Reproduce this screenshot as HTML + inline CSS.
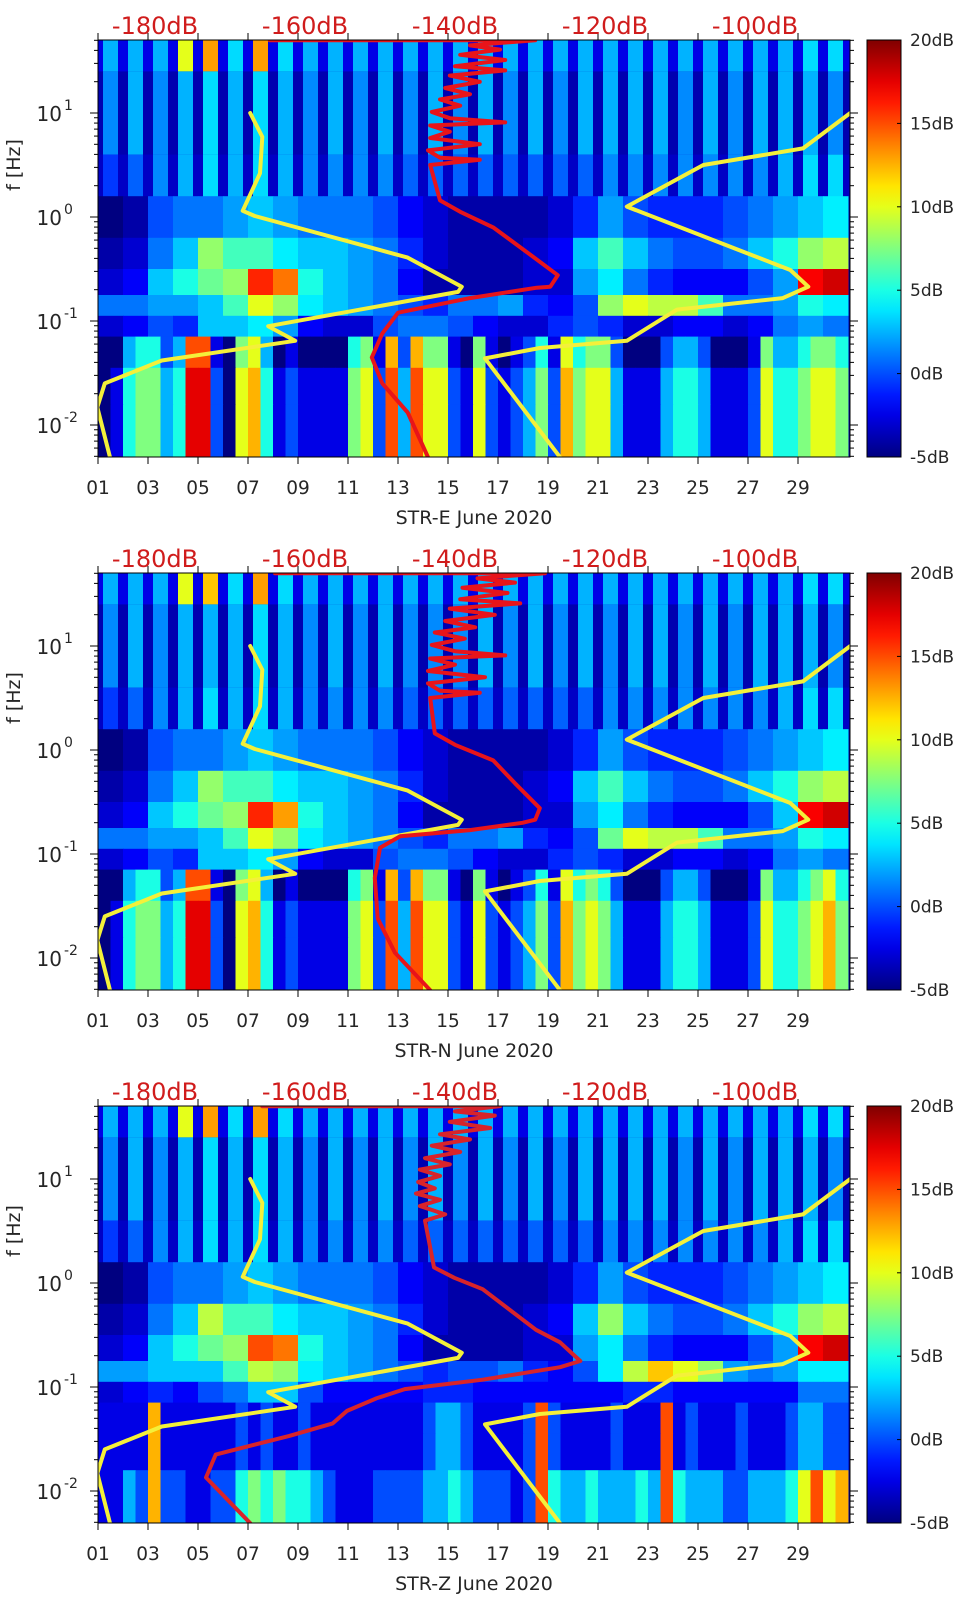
<!DOCTYPE html>
<html><head><meta charset="utf-8">
<style>
html,body{margin:0;padding:0;background:#fff;}
svg{display:block;}
text{font-family:"DejaVu Sans","Liberation Sans",sans-serif;}
</style></head>
<body>
<svg id="fig" width="962" height="1599" viewBox="0 0 962 1599" xmlns="http://www.w3.org/2000/svg">
<defs id="defs"></defs>
</svg>
<script>
// ---------- data (dB values unless noted) ----------
const bandEdges = [1.7,1.4,0.6,0.2,-0.2,-0.5,-0.75,-0.95,-1.15,-1.45,-1.8,-2.31]; // log10(Hz)
const dayTicks = [1,3,5,7,9,11,13,15,17,19,21,23,25,27,29];
const dbTicks = [-180,-160,-140,-120,-100];
const cbarTicks = [20,15,10,5,0,-5];
const yDecades = [1,0,-1,-2];
const panelNames = ["STR-E June 2020","STR-N June 2020","STR-Z June 2020"];

const eTop = [2.5,2.5,2.5,10,13,3.5,13,3.5,2.5,2.5,2.5,2.5,2.5,2.5,2.5,2.5,2.5,2.5,2.5,2.5,2.5,2.5,2.5,2.5,2.5,2.5,2.5,2.5,3.5,3.5];
const eHi  = [1.5,2.5,1.5,2.5,3.5,2.5,3.5,2.5,1.5,2.5,1.5,2.5,1.5,2.5,1.5,2.5,1.5,2.5,1.5,2.5,2.5,2.5,2.5,1.5,2.5,1.5,2.5,2.5,2.5,1.5];
const eMid = [-0.5,0.5,1.5,2.5,3.5,2.5,3.5,2.5,1.5,1.5,1.5,1.5,0.5,0.5,0.5,0.5,0.5,0.5,0.5,0.5,1.5,1.5,1.5,1.5,1.5,1.5,1.5,2.5,3.5,3.5];
const eB3 = [-5,-4,0,1,1,2,3,2,1,1,1,0,-2,-3,-4,-4,-4,-4,-3,-1,2,0,-1,-1,-1,0,1,2,3,4];
const eB4 = [-4,-3,1,3,8,6,6,4,3,3,2,1,-1,-3,-4,-4,-4,-3,-2,3,6,3,1,0,0,1,3,5,8,9];
const eB5 = [-3,-2,3,5,7,8,16,14,5,3,2,1,-2,-4,-4,-4,-4,-3,-3,2,4,1,-1,-2,-2,-2,0,2,17,18];
const eB6 = [1,1,2,2,3,6,10,8,4,3,2,1,0,-1,1,1,2,-1,-2,0,8,10,9,9,6,1,1,2,5,4];
const eB7 = [-3,-2,0,-1,3,3,4,2,-2,-3,-3,0,1,1,0,-2,-3,-3,-1,0,-1,-3,-3,-2,-2,-3,-2,1,2,1];
const eLowA = [0,1,4,5,5,3,4,9,9,2, 0,6,7,4,1,2,1,1,1,1, 5,6,2,8,3,8,6,6,2,1, 6,2,1,2,3,5,2,7,5,6, 6,3,1,1,1,3,4,4,3,1, 1,1,2,6,4,4,5,6,6,5];
const eLowB = [0,1,4,5,5,3,4,9,9,2, 0,6,7,4,1,2,1,1,1,1, 5,6,2,8,3,8,6,6,2,1, 6,2,1,2,3,5,2,7,5,6, 6,3,1,1,1,3,4,4,3,1, 1,1,2,6,4,4,5,6,6,5];

const nTop = [2.5,2.5,2.5,10,12,3.5,13,3.5,2.5,2.5,2.5,2.5,2.5,2.5,2.5,2.5,2.5,2.5,2.5,2.5,2.5,2.5,2.5,2.5,2.5,2.5,2.5,2.5,3.5,3.5];
const nHi  = [1.5,2.5,1.5,2.5,2.5,2.5,3.5,2.5,1.5,2.5,1.5,2.5,1.5,1.5,1.5,2.5,1.5,2.5,1.5,2.5,1.5,2.5,2.5,1.5,2.5,1.5,2.5,2.5,2.5,1.5];
const nMid = [-0.5,0.5,1.5,2.5,3.5,2.5,3.5,2.5,1.5,1.5,1.5,1.5,0.5,0.5,0.5,0.5,0.5,0.5,0.5,0.5,1.5,1.5,1.5,1.5,1.5,1.5,1.5,2.5,3.5,3.5];
const nB3 = [-5,-4,0,1,1,2,3,2,1,1,1,0,-2,-3,-4,-4,-4,-4,-3,-1,2,0,-1,-1,-1,0,1,2,3,4];
const nB4 = [-4,-3,1,3,8,6,6,4,3,3,2,1,-1,-3,-4,-4,-4,-3,-2,3,6,3,1,0,0,1,3,5,8,9];
const nB5 = [-3,-2,3,5,7,8,16,13,5,3,2,1,-2,-4,-4,-4,-4,-3,-3,2,4,1,-1,-2,-2,-2,0,3,17,18];
const nB6 = [1,1,2,2,3,6,10,8,4,3,2,1,0,-1,1,1,2,-1,-2,0,7,10,9,9,6,1,1,2,5,4];
const nB7 = [-3,-2,0,-1,3,3,4,2,-2,-3,-3,0,1,1,0,-2,-3,-3,-1,0,-1,-3,-3,-2,-2,-3,-2,1,2,1];
const nLowA = [0,1,4,5,5,3,4,9,9,2, 0,6,7,4,1,2,1,1,1,1, 5,6,2,8,3,8,6,6,2,1, 6,2,1,2,3,5,2,7,5,6, 5,3,1,1,1,3,4,4,3,1, 1,1,2,6,4,4,5,6,7,5];
const nLowB = [0,1,4,5,5,3,4,9,9,2, 0,6,7,4,1,2,1,1,1,1, 5,6,2,8,3,8,6,6,2,1, 6,2,1,2,3,5,2,7,5,6, 5,3,1,1,1,3,4,4,3,1, 1,1,2,6,4,4,5,6,7,5];

const zTop = [2.5,2.5,2.5,10,13,3.5,13,3.5,2.5,2.5,2.5,2.5,2.5,2.5,2.5,2.5,2.5,2.5,2.5,2.5,2.5,2.5,2.5,2.5,2.5,2.5,2.5,2.5,3.5,3.5];
const zHi  = [1.5,2.5,1.5,2.5,3.5,2.5,3.5,2.5,1.5,2.5,1.5,2.5,1.5,2.5,1.5,2.5,1.5,2.5,1.5,2.5,2.5,2.5,2.5,1.5,2.5,1.5,2.5,2.5,2.5,1.5];
const zMid = [-0.5,0.5,1.5,2.5,3.5,2.5,3.5,2.5,1.5,1.5,1.5,1.5,0.5,0.5,0.5,0.5,0.5,0.5,0.5,0.5,1.5,1.5,1.5,1.5,1.5,1.5,1.5,2.5,3.5,3.5];
const zB3 = [-5,-4,0,1,1,2,3,2,1,1,1,0,-2,-3,-4,-4,-4,-4,-3,-1,2,0,-1,-1,-1,0,1,2,3,4];
const zB4 = [-4,-3,1,3,9,6,6,4,3,3,2,1,-1,-3,-4,-4,-4,-3,-2,3,8,3,1,0,0,1,3,5,8,9];
const zB5 = [-3,-2,3,5,7,8,15,14,5,3,2,1,-2,-4,-4,-4,-4,-3,-3,2,4,1,-1,-2,-2,-2,0,2,17,18];
const zB6 = [2,2,3,3,3,6,9,8,4,3,2,1,0,-1,0,0,1,-1,-2,0,4,9,12,10,8,2,1,2,4,4];
const zB7 = [-3,-2,-1,-2,0,1,3,3,0,-2,-2,-2,-2,-1,-1,-2,-2,-2,-2,-2,-2,-1,-1,-2,-2,-2,-2,-2,1,1];
const zLowA = [1,1,1,1,7,1,1,1,1,1, 1,2,1,2,1,1,2,1,1,1, 1,1,1,1,1,1,2,3,3,2, 1,1,1,1,2,8,2,1,1,1, 1,2,1,1,1,8,1,2,1,1, 1,2,1,1,1,2,3,3,2,2];
const zLowB = [1,1,3,2,7,2,2,1,1,2, 2,4,5,4,5,4,4,3,2,1, 1,1,2,2,2,2,3,3,4,3, 2,2,2,1,2,8,4,3,3,4, 3,3,3,4,3,8,4,3,3,3, 2,2,3,3,3,4,6,8,6,7];

const nlnmDb = [-167.3,-165.7,-166.0,-168.3,-166.7,-146.3,-139.1,-139.6,-164.9,-161.3,-179.1,-186.7,-187.7,-186.0];
const nlnmF  = [1.0,0.77,0.42,0.06,0.01,-0.39,-0.67,-0.72,-1.05,-1.19,-1.38,-1.60,-1.83,-2.31];
const nhnmDb = [-87.3,-93.6,-106.9,-117.1,-95.3,-92.9,-96.3,-110.4,-117.1,-128.7,-136.0,-126.0];
const nhnmF  = [1.0,0.66,0.50,0.10,-0.51,-0.67,-0.78,-0.89,-1.19,-1.26,-1.36,-2.31];

const ePsdDb = [-164.7,-129.3,-138.0,-134.0,-139.3,-133.3,-140.0,-133.3,-140.7,-136.7,-141.3,-138.0,-142.0,-139.3,-143.1,-140.7,-133.3,-143.3,-140.7,-143.3,-136.7,-143.6,-142.0,-136.7,-143.3,-142.0,-139.3,-134.9,-131.3,-126.3,-127.3,-129.1,-138.0,-147.6,-149.7,-151.1,-149.7,-146.3,-143.6];
const ePsdF  = [1.70,1.70,1.65,1.61,1.56,1.51,1.45,1.41,1.36,1.30,1.24,1.18,1.13,1.07,1.01,0.95,0.91,0.88,0.82,0.76,0.70,0.64,0.57,0.55,0.50,0.16,0.05,-0.10,-0.29,-0.56,-0.67,-0.68,-0.78,-0.92,-1.12,-1.35,-1.60,-1.88,-2.31];
const nPsdDb = [-164.0,-128.0,-137.0,-132.0,-139.0,-133.0,-139.3,-131.3,-140.7,-134.7,-141.3,-137.3,-142.7,-138.7,-143.1,-140.0,-133.3,-143.3,-140.0,-143.6,-136.0,-143.6,-142.0,-136.7,-143.3,-142.7,-140.0,-134.9,-132.0,-128.7,-129.3,-131.0,-138.0,-147.3,-150.0,-150.7,-150.3,-148.0,-143.3];
const nPsdF  = [1.70,1.70,1.65,1.61,1.56,1.51,1.45,1.41,1.36,1.30,1.24,1.18,1.13,1.07,1.01,0.95,0.91,0.88,0.82,0.76,0.70,0.64,0.57,0.55,0.50,0.16,0.05,-0.10,-0.32,-0.56,-0.67,-0.70,-0.77,-0.83,-0.94,-1.23,-1.62,-1.95,-2.31];
const zPsdDb = [-165.7,-134.0,-140.0,-134.7,-140.7,-135.3,-142.0,-138.0,-143.1,-139.3,-144.0,-140.7,-144.7,-142.0,-144.9,-142.7,-145.2,-142.0,-144.7,-141.3,-144.0,-142.8,-140.1,-136.3,-129.2,-126.0,-123.3,-126.0,-136.3,-146.7,-150.5,-154.4,-156.3,-162.1,-171.9,-173.2,-167.3];
const zPsdF  = [1.70,1.70,1.65,1.61,1.55,1.49,1.43,1.38,1.32,1.26,1.20,1.14,1.09,1.03,0.97,0.91,0.86,0.80,0.74,0.66,0.60,0.15,0.05,-0.06,-0.45,-0.57,-0.75,-0.81,-0.93,-1.02,-1.11,-1.23,-1.35,-1.47,-1.65,-1.87,-2.31];

// ---------- helpers ----------
const NS = "http://www.w3.org/2000/svg";
const svg = document.getElementById("fig");
const defs = document.getElementById("defs");
const PX0 = 98, PX1 = 850, PH = 417, CBX = 867, CBW = 34;
const DMIN = -5, DMAX = 20;
function mk(tag, attrs, parent){ const e = document.createElementNS(NS, tag); for (const k in attrs) e.setAttribute(k, attrs[k]); (parent||svg).appendChild(e); return e; }
function xDay(d){ return PX0 + (d-1)*25; }
function xDb(db){ return 155 + (db+180)*7.5; }
function yF(top, lf){ return top + 73 + (1-lf)*104; }
function lvl(v){ return v*2.5-5; }
function clamp(v){ return Math.max(0, Math.min(1, v)); }
function jet(db){
  const v = clamp((db-DMIN)/(DMAX-DMIN));
  const r = clamp(1.5-Math.abs(4*v-3)), g = clamp(1.5-Math.abs(4*v-2)), b = clamp(1.5-Math.abs(4*v-1));
  return "rgb("+Math.round(r*255)+","+Math.round(g*255)+","+Math.round(b*255)+")";
}

const grad = mk("linearGradient", {id:"jetgrad", x1:"0", y1:"1", x2:"0", y2:"0"}, defs);
for (let i=0;i<=20;i++){ mk("stop", {offset:(i/20), "stop-color": jet(DMIN + (DMAX-DMIN)*i/20)}, grad); }

const panels = [
  {top:40,  name:panelNames[0], top0:eTop, hi:eHi, mid:eMid, b:[eB3,eB4,eB5,eB6,eB7], lowA:eLowA, lowB:eLowB, psdDb:ePsdDb, psdF:ePsdF, red:"#e8141a", key:"e", lowOff:-2.5},
  {top:573, name:panelNames[1], top0:nTop, hi:nHi, mid:nMid, b:[nB3,nB4,nB5,nB6,nB7], lowA:nLowA, lowB:nLowB, psdDb:nPsdDb, psdF:nPsdF, red:"#e8141a", key:"n", lowOff:-2.5},
  {top:1106,name:panelNames[2], top0:zTop, hi:zHi, mid:zMid, b:[zB3,zB4,zB5,zB6,zB7], lowA:zLowA, lowB:zLowB, psdDb:zPsdDb, psdF:zPsdF, red:"#d8242a", key:"z", lowOff:0}
];

panels.forEach((p, pi) => {
  const T = p.top;
  const g = mk("g", {});
  
  
  const cp = mk("clipPath", {id:"clip"+pi}, defs);
  mk("rect", {x:PX0, y:T, width:PX1-PX0, height:PH}, cp);
  const heat = mk("g", {"clip-path":"url(#clip"+pi+")"}, g);
  
  
  mk("rect", {x:PX0, y:T, width:PX1-PX0, height:PH, fill:jet(-4)}, heat);
  const hiSets = [[p.top0,-2.5],[p.hi,-3.8],[p.mid,-3.3]];
  hiSets.forEach((hs, bi) => {
    const y0 = yF(T, bandEdges[bi]), y1 = yF(T, bandEdges[bi+1]);
    const bg = mk("rect", {x:PX0, y:y0, width:PX1-PX0, height:y1-y0+0.5, fill:jet(hs[1])}, heat);
    
    
    hs[0].forEach((v, d) => {
      const r = mk("rect", {x:xDay(d+1)+5, y:y0, width:15, height:y1-y0+0.5, fill:jet(v)}, heat);
      
      
    });
  });
  p.b.forEach((arr, k) => {
    const bi = 3+k;
    const y0 = yF(T, bandEdges[bi]), y1 = yF(T, bandEdges[bi+1]);
    arr.forEach((v, d) => {
      const r = mk("rect", {x:xDay(d+1), y:y0, width:25.5, height:y1-y0+0.5, fill:jet(v)}, heat);
      
      
    });
  });
  [[p.lowA,p.lowOff],[p.lowA,0],[p.lowB,0]].forEach((ls, k) => {
    const bi = 8+k;
    const y0 = yF(T, bandEdges[bi]), y1 = yF(T, bandEdges[bi+1]);
    ls[0].forEach((v, i) => {
      const r = mk("rect", {x:xDay(1+i*0.5), y:y0, width:13, height:y1-y0+0.5, fill:jet(lvl(v)+ls[1])}, heat);
      
      
    });
  });
  function curve(dbs, fs, color, w, name){
    const pts = dbs.map((db,i)=> xDb(db).toFixed(1)+","+yF(T, fs[i]).toFixed(1)).join(" ");
    const l = mk("polyline", {points:pts, fill:"none", stroke:color, "stroke-width":w, "stroke-linejoin":"round", "stroke-linecap":"round"}, heat);
    
    
  }
  curve(nlnmDb, nlnmF, "#f4f03a", 4, "nlnm-curve");
  curve(nhnmDb, nhnmF, "#f4f03a", 4, "nhnm-curve");
  curve(p.psdDb, p.psdF, p.red, 4, "psd-curve");

  const fr = mk("rect", {x:PX0, y:T, width:PX1-PX0, height:PH, fill:"none", stroke:"#000", "stroke-width":1}, g);
  
  
  dayTicks.forEach(d => {
    const x = xDay(d);
    mk("line", {x1:x, y1:T+PH, x2:x, y2:T+PH+7, stroke:"#000"}, g);
    mk("line", {x1:x, y1:T, x2:x, y2:T-7, stroke:"#000"}, g);
    const t = mk("text", {x:x, y:T+PH+37, "font-size":"18.5", fill:"#262626", "text-anchor":"middle"}, g);
    t.textContent = (d<10?"0":"")+d;
    
    
  });
  const ttl = mk("text", {x:474, y:T+PH+67, "font-size":"19", fill:"#262626", "text-anchor":"middle"}, g);
  ttl.textContent = p.name;
  
  
  dbTicks.forEach(db => {
    const t = mk("text", {x:xDb(db), y:T-6, "font-size":"24", fill:"#d01c1c", "text-anchor":"middle"}, g);
    t.textContent = db+"dB";
    
    
  });
  for (let n=-3;n<=1;n++){
    for (let k=1;k<=9;k++){
      const lf = n + Math.log10(k);
      if (lf > 1.7 || lf < -2.31) continue;
      const y = yF(T, lf), L = (k===1)?8:4;
      mk("line", {x1:PX0, y1:y, x2:PX0-L, y2:y, stroke:"#000"}, g);
      mk("line", {x1:PX1, y1:y, x2:PX1+L, y2:y, stroke:"#000"}, g);
    }
  }
  yDecades.forEach(n => {
    const y = yF(T, n);
    const t = mk("text", {x:62, y:y+8, "font-size":"20", fill:"#262626", "text-anchor":"end"}, g);
    t.textContent = "10";
    
    
    const s = mk("text", {x:64, y:y-3, "font-size":"14", fill:"#262626", "text-anchor":"start"}, g);
    s.textContent = String(n);
    
    
  });
  const yt = mk("text", {x:0, y:0, "font-size":"19", fill:"#262626", "text-anchor":"middle", transform:"translate(20,"+(T+125)+") rotate(-90)"}, g);
  yt.textContent = "f [Hz]";
  
  
  const cb = mk("rect", {x:CBX, y:T, width:CBW, height:PH, fill:"url(#jetgrad)", stroke:"#000", "stroke-width":1}, g);
  
  
  cbarTicks.forEach(v => {
    const y = T + (DMAX - v)/(DMAX-DMIN)*PH;
    mk("line", {x1:CBX+CBW-4, y1:y, x2:CBX+CBW, y2:y, stroke:"#000"}, g);
    const t = mk("text", {x:910, y:y+6, "font-size":"17", fill:"#262626"}, g);
    t.textContent = v+"dB";
    
    
  });
});
</script>
</body></html>
